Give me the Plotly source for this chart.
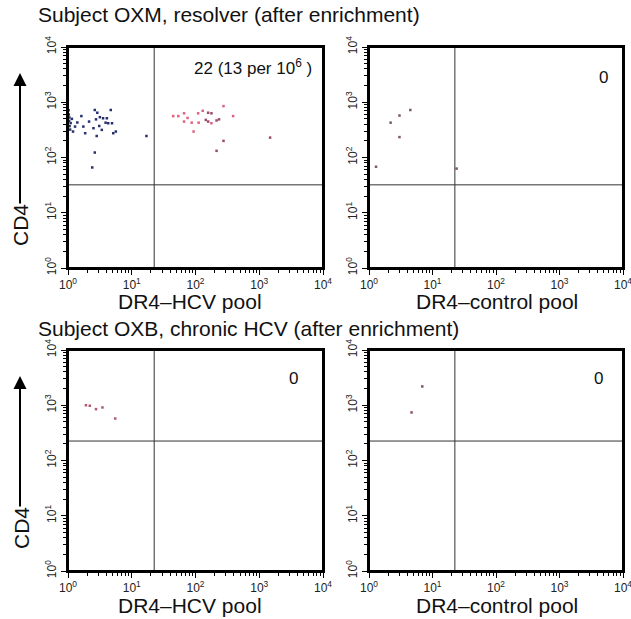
import plotly.graph_objects as go

W, H = 631, 619

# ---------------- data ----------------
# Top-left: Subject OXM, DR4-HCV pool
tl_dark_x = [1.02, 1.03, 1.05, 1.04, 1.06, 1.08, 1.10, 1.15, 1.20, 1.29, 1.40, 1.62, 1.74, 1.86,
             2.14, 2.51, 2.63, 2.75, 2.88, 2.82, 3.09, 3.16, 3.39, 3.55, 3.89, 4.07, 4.27,
             4.68, 4.90, 5.13, 5.62, 2.63, 2.40, 17.0]
tl_dark_y = [720, 600, 530, 460, 370, 320, 420, 500, 295, 363, 430, 562, 363, 275,
             447, 339, 724, 490, 646, 245, 372, 537, 316, 513, 427, 513, 417,
             724, 417, 275, 295, 123, 66, 245]
tl_red_x = [44.7, 53.7, 66.1, 66.1, 87.1, 93.3, 110, 112, 75, 389, 275, 178, 130]
tl_red_y = [562, 562, 631, 447, 427, 295, 631, 427, 520, 562, 851, 417, 700]
tl_red2_x = [145, 158, 158, 178, 214, 234, 275, 214, 1480]
tl_red2_y = [479, 646, 447, 631, 468, 490, 200, 132, 229]

# Top-right: Subject OXM, DR4-control pool
tr_x = [4.47, 3.02, 2.19, 3.02, 1.29, 24.0]
tr_y = [724, 575, 427, 234, 68, 63]

# Bottom-left: Subject OXB, DR4-HCV pool
bl_x = [1.91, 2.20, 2.75, 3.47, 5.50]
bl_y = [1000, 980, 851, 912, 575]

# Bottom-right: Subject OXB, DR4-control pool
br_x = [6.9, 4.68]
br_y = [2190, 741]

# quadrant gates
gate_x = 22.5
gate_y_top = 32
gate_y_bottom = 225

panel_titles = ["Subject OXM, resolver (after enrichment)",
                "Subject OXB, chronic HCV (after enrichment)"]
x_titles = ["DR4\u2013HCV pool", "DR4\u2013control pool"]
y_title = "CD4"
counts = ["22 (13 per 10<sup>6</sup> )", "0", "0", "0"]

major_vals = [1, 10, 100, 1000, 10000]
major_text = ["10<sup>0</sup>", "10<sup>1</sup>", "10<sup>2</sup>", "10<sup>3</sup>", "10<sup>4</sup>"]
minor_vals = [k * m for m in (1, 10, 100, 1000) for k in range(2, 10)]

# ---------------- layout geometry (pixels) ----------------
def fx(px):
    return px / W

def fy(py):
    return 1 - py / H

cols = [(68, 323), (369, 623)]
rows = [(47, 268), (350, 571)]

fig = go.Figure()
shapes = []
layout_axes = {}

panels = [
    (0, 0, [(tl_dark_x, tl_dark_y, "#26306e"), (tl_red_x, tl_red_y, "#e0607e"), (tl_red2_x, tl_red2_y, "#9a4a6a")], gate_y_top),
    (0, 1, [(tr_x, tr_y, "#7a5a6a")], gate_y_top),
    (1, 0, [(bl_x, bl_y, "#b05a70")], gate_y_bottom),
    (1, 1, [(br_x, br_y, "#8a5060")], gate_y_bottom),
]

for i, (r, c, series, gy) in enumerate(panels):
    n = i + 1
    xa = "x" if n == 1 else f"x{n}"
    ya = "y" if n == 1 else f"y{n}"
    for xs, ys, col in series:
        fig.add_trace(go.Scatter(x=xs, y=ys, mode="markers", xaxis=xa, yaxis=ya,
                                 marker=dict(size=2.5, color=col, symbol="square", line=dict(width=0)),
                                 showlegend=False, hoverinfo="skip"))
    # gates
    fig.add_trace(go.Scatter(x=[gate_x, gate_x], y=[1, 10000], mode="lines", xaxis=xa, yaxis=ya,
                             line=dict(color="#333333", width=1), showlegend=False, hoverinfo="skip"))
    fig.add_trace(go.Scatter(x=[1, 10000], y=[gy, gy], mode="lines", xaxis=xa, yaxis=ya,
                             line=dict(color="#333333", width=1), showlegend=False, hoverinfo="skip"))

    x0, x1 = cols[c]
    y0, y1 = rows[r]
    xdom = [fx(x0), fx(x1)]
    ydom = [fy(y1), fy(y0)]
    common = dict(type="log", range=[0, 4], showline=True, mirror=True, linecolor="black",
                  linewidth=2, ticks="outside", ticklen=5, tickwidth=1,
                  tickcolor="black", showgrid=False, zeroline=False, tickmode="array",
                  tickvals=major_vals, ticktext=major_text, automargin=False,
                  ticklabeloverflow="allow",
                  tickfont=dict(family="Liberation Sans, Arial", size=12, color="#222"),
                  minor=dict(tickmode="array", tickvals=minor_vals, ticks="outside", ticklen=3,
                             tickwidth=1, tickcolor="black", showgrid=False))
    layout_axes["xaxis" if n == 1 else f"xaxis{n}"] = dict(common, domain=xdom, anchor=ya)
    layout_axes["yaxis" if n == 1 else f"yaxis{n}"] = dict(common, domain=ydom, anchor=xa, tickangle=-90)
    # panel frame
    shapes.append(dict(type="rect", xref="paper", yref="paper", x0=xdom[0], x1=xdom[1],
                       y0=ydom[0], y1=ydom[1], line=dict(color="black", width=2),
                       fillcolor="rgba(0,0,0,0)", layer="above"))

ann = []
font_big = dict(family="Liberation Sans, Arial", size=21, color="#111")
# panel titles
ann.append(dict(text=panel_titles[0], x=fx(36), y=fy(15), xref="paper", yref="paper",
                xanchor="left", yanchor="middle", showarrow=False, font=font_big))
ann.append(dict(text=panel_titles[1], x=fx(36), y=fy(328), xref="paper", yref="paper",
                xanchor="left", yanchor="middle", showarrow=False, font=font_big))
# x titles
for r, yc in [(0, 301), (1, 605)]:
    for c, xc in [(0, 190), (1, 497)]:
        ann.append(dict(text=x_titles[c], x=fx(xc), y=fy(yc), xref="paper", yref="paper",
                        xanchor="center", yanchor="middle", showarrow=False, font=font_big))
# y titles with arrows
for yc, ytip, ytail in [(225, 73, 205), (528, 376, 508)]:
    ann.append(dict(text=y_title, x=fx(21), y=fy(yc), xref="paper", yref="paper",
                    xanchor="center", yanchor="middle", textangle=-90, showarrow=False, font=font_big))
    ann.append(dict(text="", x=fx(20), y=fy(ytip), xref="paper", yref="paper",
                    showarrow=True, ax=0, ay=ytail - ytip, arrowhead=2, arrowsize=1.3,
                    arrowwidth=2, arrowcolor="black", standoff=0))
# counts
count_pos = [(253, 67), (603, 77), (293, 378), (598, 378)]
for t, (xc, yc) in zip(counts, count_pos):
    ann.append(dict(text=t, x=fx(xc), y=fy(yc), xref="paper", yref="paper",
                    xanchor="center", yanchor="middle", showarrow=False,
                    font=dict(family="Liberation Sans, Arial", size=17, color="#111")))

fig.update_layout(width=W, height=H, margin=dict(l=0, r=0, t=0, b=0, autoexpand=False),
                  paper_bgcolor="white", plot_bgcolor="white", annotations=ann,
                  shapes=shapes, showlegend=False, **layout_axes)

fig.write_html("out.html", config={"displayModeBar": False},
               post_script="document.body.style.margin='0';document.body.style.overflow='hidden';")
